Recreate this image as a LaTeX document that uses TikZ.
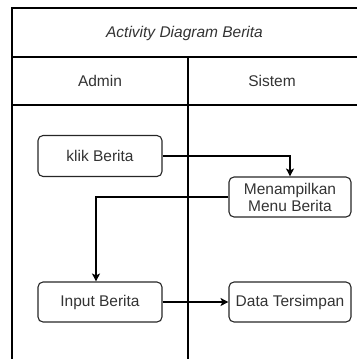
\documentclass[tikz,border=0pt]{standalone}
\usepackage{fontspec}
\setmainfont{Liberation Sans}
\usetikzlibrary{arrows.meta}
\definecolor{txt}{HTML}{333333}
\begin{document}
\begin{tikzpicture}[x=1pt,y=-1pt,
  lane/.style={line width=1.6pt,black},
  lanetext/.style={font=\fontsize{15.5}{17}\selectfont,text=txt},
  act/.style={draw=black!85,line width=1.1pt,rounded corners=5pt,
    minimum width=124pt,minimum height=41pt,inner sep=1pt,
    font=\fontsize{15.5}{17}\selectfont,text=txt,align=center},
  flow/.style={line width=1.1pt,-{Stealth[length=8pt,width=8pt,inset=2pt]}}]
\useasboundingbox (0,0) rectangle (357,359);
% swimlane frame
\draw[lane] (357,8) -- (12,8) -- (12,359);
\draw[lane] (12,57) -- (357,57);
\draw[lane] (12,105) -- (357,105);
\draw[lane] (188,57) -- (188,359);
\node[lanetext,font=\fontsize{15.5}{17}\selectfont\itshape] (title) at (184.5,33) {Activity Diagram Berita};
\node[lanetext] (admin) at (100,81) {Admin};
\node[lanetext] (sistem) at (272,81) {Sistem};
% activities
\node[act] (klik) at (100,156) {klik Berita};
\node[act,minimum width=122pt,minimum height=40pt] (menu) at (290,197) {Menampilkan\\Menu Berita};
\node[act,minimum height=40pt] (input) at (100,302) {Input Berita};
\node[act,minimum width=122pt,minimum height=40pt] (data) at (290,302) {Data Tersimpan};
% control flow
\coordinate (bend) at (96,197);
\draw[flow] (klik.east) -| (menu.north);
\draw[flow] (menu.west) -- (bend) -- (bend |- input.north);
\draw[flow] (input.east) -- (data.west);
\end{tikzpicture}
\end{document}
